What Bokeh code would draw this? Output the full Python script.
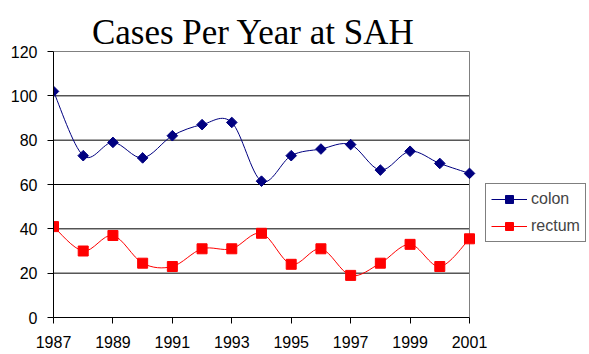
import math
from bokeh.plotting import figure
from bokeh.models import Legend, LegendItem, FixedTicker, ColumnDataSource, Label
from bokeh.embed import file_html
from bokeh.resources import INLINE

years = [1987, 1988, 1989, 1990, 1991, 1992, 1993, 1994, 1995, 1996, 1997, 1998, 1999, 2000, 2001]
colon = [102, 73, 79, 72, 82, 87, 88, 61.5, 73, 76, 78, 66.5, 75, 69.5, 65]
rectum = [41, 30, 37, 24.5, 23, 31, 31, 38, 24, 31, 19, 24.5, 33, 23, 35.5]
x_ticks = [1987, 1989, 1991, 1993, 1995, 1997, 1999, 2001]
y_ticks = [0, 20, 40, 60, 80, 100, 120]
title_text = "Cases Per Year at SAH"

X_START, X_END = years[0], years[-1]
Y_MAX = y_ticks[-1]


def bezier_segments(xs, ys):
    # smoothed connection between consecutive data points (Catmull-Rom style control points)
    n = len(xs)
    d = dict(x0=[], y0=[], x1=[], y1=[], cx0=[], cy0=[], cx1=[], cy1=[])
    for i in range(n - 1):
        p0 = max(i - 1, 0)
        p3 = min(i + 2, n - 1)
        d["x0"].append(xs[i]); d["y0"].append(ys[i])
        d["x1"].append(xs[i + 1]); d["y1"].append(ys[i + 1])
        d["cx0"].append(xs[i] + (xs[i + 1] - xs[p0]) / 6)
        d["cy0"].append(ys[i] + (ys[i + 1] - ys[p0]) / 6)
        d["cx1"].append(xs[i + 1] - (xs[p3] - xs[i]) / 6)
        d["cy1"].append(ys[i + 1] - (ys[p3] - ys[i]) / 6)
    return ColumnDataSource(d)


# layout in pixels: plotted area from x=53..469 and y=51..317 of a 589x354 canvas;
# the frame is extended to the right and top edges so legend and title can sit there
W, H = 589, 354
LEFT, BOTTOM = 53, 37
PLOT_W, PLOT_H = 416, 266
FRAME_W, FRAME_H = W - LEFT, H - BOTTOM
x_per_px = (X_END - X_START) / PLOT_W
y_per_px = Y_MAX / PLOT_H
x_end_view = X_START + FRAME_W * x_per_px
y_end_view = FRAME_H * y_per_px

p = figure(width=W, height=H, output_backend="svg", toolbar_location=None,
           x_range=(X_START, x_end_view), y_range=(0, y_end_view),
           min_border_left=LEFT, min_border_right=0, min_border_top=0, min_border_bottom=BOTTOM)

p.outline_line_color = None
p.background_fill_color = "white"
p.border_fill_color = "white"

p.xgrid.grid_line_color = None
p.ygrid.grid_line_color = None

for ax in (p.xaxis[0], p.yaxis[0]):
    ax.axis_line_color = "black"
    ax.major_tick_line_color = "black"
    ax.minor_tick_line_color = None
    ax.major_tick_in = 0
    ax.major_tick_out = 6
    ax.major_label_text_font = "Liberation Sans"
    ax.major_label_text_font_size = "16px"
    ax.major_label_text_color = "black"

p.xaxis[0].ticker = FixedTicker(ticks=x_ticks)
p.yaxis[0].ticker = FixedTicker(ticks=y_ticks)
p.xaxis[0].bounds = (X_START, X_END)
p.yaxis[0].bounds = (0, Y_MAX)
p.xaxis[0].major_label_standoff = 12
p.yaxis[0].major_label_standoff = 10

# title centred above the plotted area, baseline at pixel row 32
title = Label(x=X_START + (253 - LEFT) * x_per_px, y=(H - BOTTOM - 32) * y_per_px,
              text=title_text, text_font="Liberation Serif", text_font_size="35px",
              text_color="black", text_align="center", text_baseline="alphabetic")
p.add_layout(title)

# horizontal grid lines (black) and plot-area border (gray) limited to the plotted years
grid_y = y_ticks[1:-1]
p.segment(x0=[X_START] * len(grid_y), y0=grid_y, x1=[X_END] * len(grid_y), y1=grid_y,
          line_color="black", line_width=1)
p.segment(x0=[X_START, X_END], y0=[Y_MAX, 0], x1=[X_END, X_END], y1=[Y_MAX, Y_MAX],
          line_color="#808080", line_width=1)

c_line = p.bezier(x0="x0", y0="y0", x1="x1", y1="y1", cx0="cx0", cy0="cy0", cx1="cx1", cy1="cy1",
                  source=bezier_segments(years, colon), line_color="#000080", line_width=1)
r_line = p.bezier(x0="x0", y0="y0", x1="x1", y1="y1", cx0="cx0", cy0="cy0", cx1="cx1", cy1="cy1",
                  source=bezier_segments(years, rectum), line_color="#FF0000", line_width=1)

c_mark = p.scatter(years, colon, marker="square", angle=math.pi / 4, size=7.5, color="#000080")
r_mark = p.scatter(years, rectum, marker="square", size=10, color="#FF0000")

legend = Legend(items=[LegendItem(label="colon", renderers=[c_line, c_mark]),
                       LegendItem(label="rectum", renderers=[r_line, r_mark])],
                location=(432, 75))
legend.border_line_color = "black"
legend.border_line_width = 1
legend.label_text_font = "Liberation Sans"
legend.label_text_font_size = "16px"
legend.glyph_width = 36
legend.glyph_height = 20
legend.spacing = 7
legend.padding = 5
legend.margin = 0
legend.label_standoff = 4
p.add_layout(legend, "center")

open("out.html", "w").write(file_html(p, INLINE))
